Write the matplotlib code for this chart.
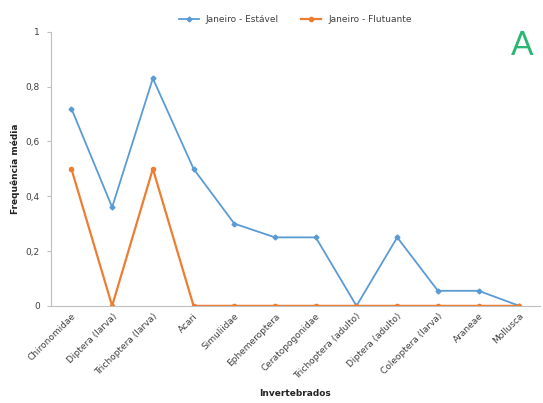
import matplotlib
matplotlib.use("Agg")
import matplotlib.pyplot as plt

# Frequência média de invertebrados em janeiro
categorias = ["Chironomidae", "Diptera (larva)", "Trichoptera (larva)", "Acari",
              "Simuliidae", "Ephemeroptera", "Ceratopogonidae", "Trichoptera (adulto)",
              "Diptera (adulto)", "Coleoptera (larva)", "Araneae", "Mollusca"]
estavel = [0.72, 0.36, 0.83, 0.50, 0.30, 0.25, 0.25, 0.0, 0.25, 0.055, 0.055, 0.0]
flutuante = [0.5, 0.0, 0.5, 0.0, 0.0, 0.0, 0.0, 0.0, 0.0, 0.0, 0.0, 0.0]
yticks = [0, 0.2, 0.4, 0.6, 0.8, 1]
ytick_labels = ["0", "0,2", "0,4", "0,6", "0,8", "1"]

azul = "#5B9BD5"
laranja = "#ED7D31"
texto = "#404040"

fig = plt.figure(figsize=(5.43, 4.03), dpi=100)
ax = fig.add_axes([0.094, 0.241, 0.9, 0.68])

x = list(range(len(categorias)))
ax.plot(x, estavel, color=azul, lw=1.3, marker="D", ms=2.5, label="Janeiro - Estável")
ax.plot(x, flutuante, color=laranja, lw=1.6, marker="o", ms=3, label="Janeiro - Flutuante")

ax.set_xlim(-0.5, len(categorias) - 0.5)
ax.set_ylim(0, 1)
ax.set_yticks(yticks)
ax.set_yticklabels(ytick_labels)
ax.set_xticks(x)
ax.set_xticklabels(categorias, rotation=45, ha="right", rotation_mode="anchor")
ax.tick_params(axis="y", length=3, color="#BFBFBF", labelsize=6.5, labelcolor=texto, pad=5)
ax.tick_params(axis="x", length=0, labelsize=6.5, labelcolor=texto, pad=4)

for s in ["top", "right"]:
    ax.spines[s].set_visible(False)
ax.spines["left"].set_color("#BFBFBF")
ax.spines["bottom"].set_color("#BFBFBF")

ax.set_ylabel("Frequência média", fontsize=6.5, fontweight="bold", color="#222222", labelpad=4)
ax.set_xlabel("Invertebrados", fontsize=6.5, fontweight="bold", color="#222222", labelpad=6)

ax.legend(loc="lower center", bbox_to_anchor=(0.5, 1.0), ncol=2, frameon=False,
          fontsize=6.5, labelcolor=texto, handlelength=2.2, columnspacing=2.5)

fig.text(0.962, 0.885, "A", fontsize=24, color="#2BB673", ha="center", va="center",
         family="Lato")

fig.savefig("out.png", dpi=100)
